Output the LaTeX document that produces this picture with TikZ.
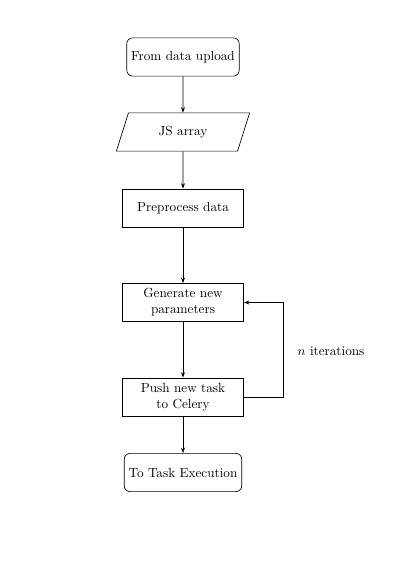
\documentclass[tikz,border=0pt]{standalone}
\usetikzlibrary{shapes.geometric,arrows.meta}
\begin{document}
\begin{tikzpicture}[x=0.7576pt,y=-0.7576pt,line width=0.5pt,
  startstop/.style={draw,rounded corners=4.5pt,minimum height=29pt,inner sep=3.33pt},
  io/.style={draw,trapezium,trapezium left angle=73,trapezium right angle=107,trapezium stretches=true,minimum width=101pt,minimum height=29pt},
  process/.style={draw,text width=3cm,align=center,minimum height=29pt,inner sep=3.33pt},
  arr/.style={-{Stealth[length=4pt,width=3pt]}}]
\useasboundingbox (0,0) rectangle (409,586);
\node[startstop] (start) at (183,57) {From data upload};
\node[io] (js) at (183,132) {JS array};
\node[process] (pre) at (183,208) {Preprocess data};
\node[process] (gen) at (183,302.5) {Generate new\\parameters};
\node[process] (push) at (183,397) {Push new task\\to Celery};
\node[startstop] (end) at (183,472.5) {To Task Execution};
\coordinate (rc) at (283,350);
\draw[arr] (start) -- (js);
\draw[arr] (js) -- (pre);
\draw[arr] (pre) -- (gen);
\draw[arr] (gen) -- (push);
\draw[arr] (push) -- (end);
\draw[arr] (push.east) -- (push.east -| rc) -- (gen.east -| rc) -- (gen.east);
\node[anchor=west] (lbl) at (293,351) {$n$ iterations};
\end{tikzpicture}
\end{document}
